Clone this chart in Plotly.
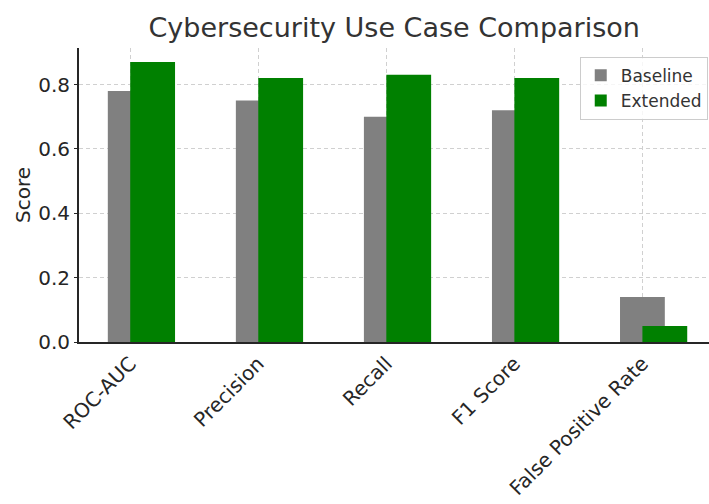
import plotly.graph_objects as go

categories = ["ROC-AUC", "Precision", "Recall", "F1 Score", "False Positive Rate"]
baseline = [0.78, 0.75, 0.70, 0.72, 0.14]
extended = [0.87, 0.82, 0.83, 0.82, 0.05]
yticks = [0.0, 0.2, 0.4, 0.6, 0.8]

xpos = list(range(len(categories)))
W = 0.35
FONT = "DejaVu Sans"

fig = go.Figure()
fig.add_trace(go.Bar(x=xpos, y=baseline, name="Baseline", marker_color="#808080",
                     marker_line_width=0, width=W, offset=-W / 2))
fig.add_trace(go.Bar(x=xpos, y=extended, name="Extended", marker_color="#008000",
                     marker_line_width=0, width=W, offset=0))

fig.update_layout(
    width=709, height=504,
    margin=dict(l=79, r=0, t=48, b=162),
    barmode="overlay",
    paper_bgcolor="white", plot_bgcolor="white",
    font=dict(family=FONT, color="#333333"),
    title=dict(text="Cybersecurity Use Case Comparison", x=0.556,
               xanchor="center", y=0.945, yanchor="middle",
               font=dict(size=27, color="#333333", family=FONT)),
    legend=dict(x=0.998, y=0.97, xanchor="right", yanchor="top",
                bordercolor="#cccccc", borderwidth=1, bgcolor="rgba(255,255,255,0.8)",
                font=dict(size=17, color="#333333", family=FONT)),
    showlegend=True,
)
fig.update_xaxes(
    tickmode="array", tickvals=xpos, ticktext=categories, tickangle=-45,
    range=[-0.4, 4.52], showline=True, linecolor="#262626", linewidth=2,
    showgrid=True, gridcolor="#d0d0d0", griddash="4px,3px", gridwidth=1,
    ticks="", tickfont=dict(size=20, color="#262626", family=FONT), zeroline=False,
)
fig.update_yaxes(
    tickmode="array", tickvals=yticks, ticktext=[f"{v:.1f}" for v in yticks],
    range=[0, 0.9135], showline=True, linecolor="#262626", linewidth=2,
    showgrid=True, gridcolor="#d0d0d0", griddash="4px,3px", gridwidth=1,
    ticks="outside", ticklen=3, tickcolor="#262626",
    tickfont=dict(size=20, color="#262626", family=FONT), zeroline=False,
    title=dict(text="Score", font=dict(size=20, color="#262626", family=FONT), standoff=2),
)
fig.write_html("out.html")
